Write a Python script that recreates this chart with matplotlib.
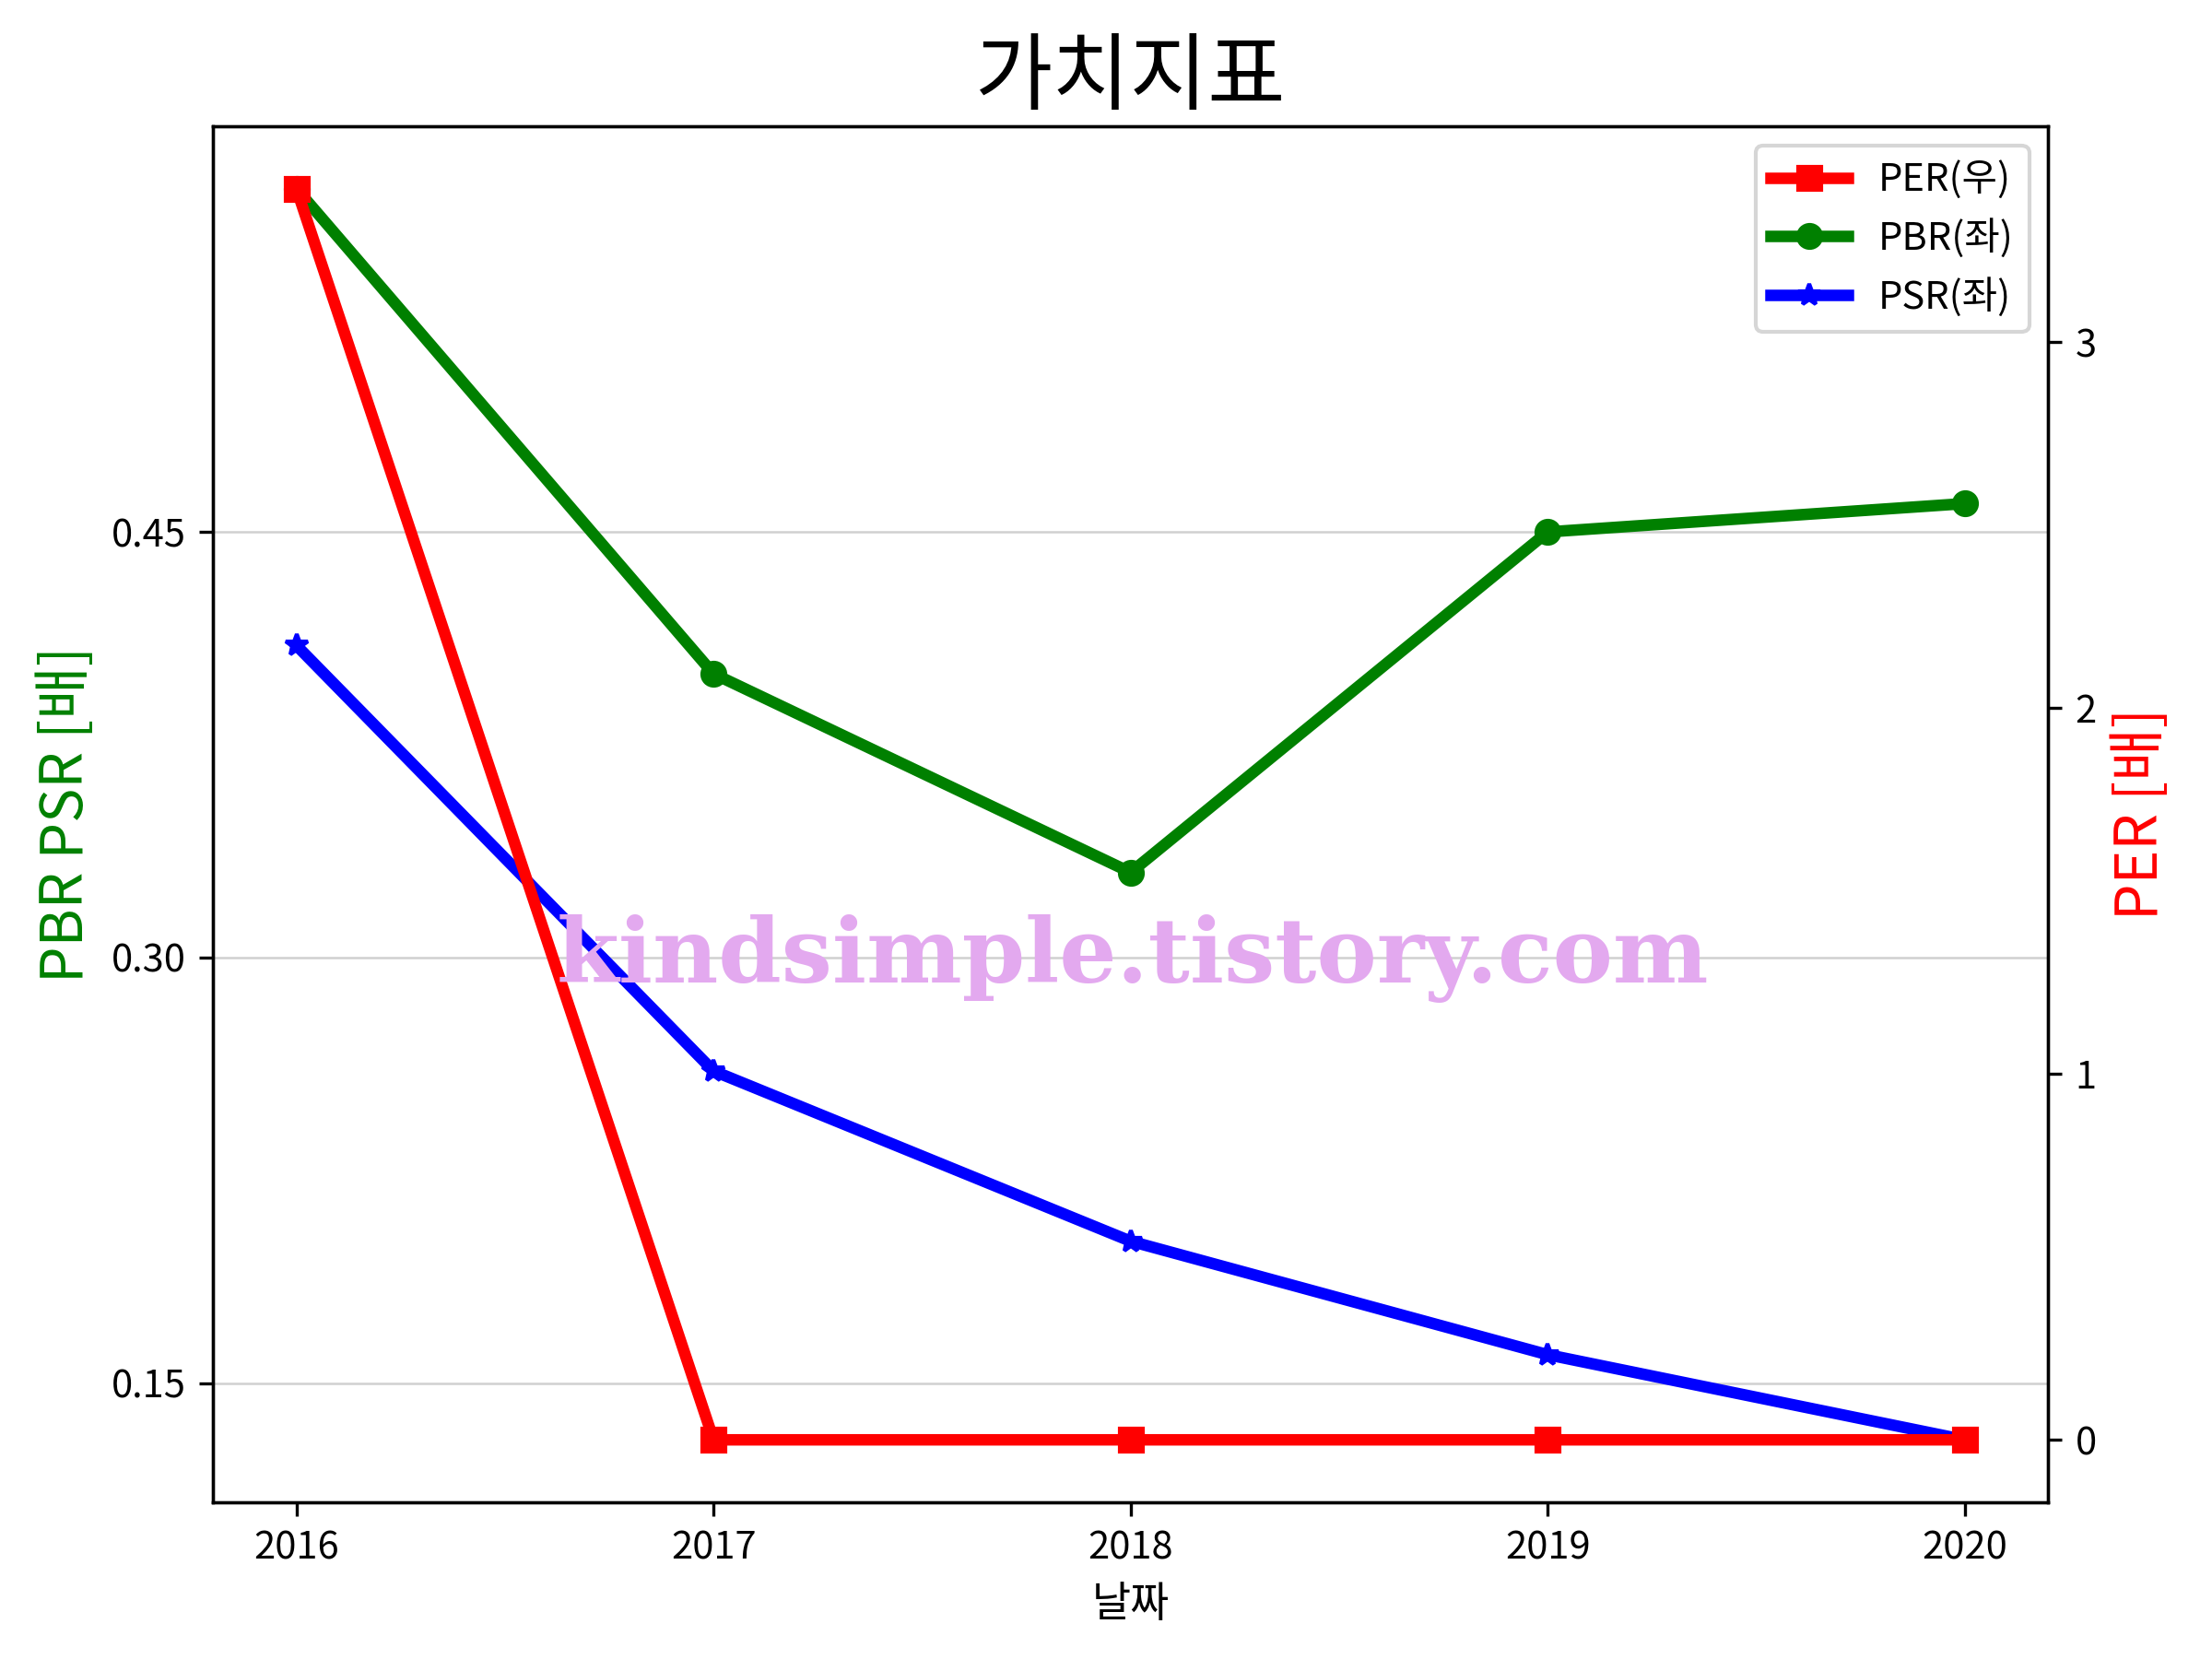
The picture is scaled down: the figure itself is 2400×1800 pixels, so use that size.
import matplotlib
matplotlib.use("Agg")
import matplotlib.pyplot as plt

plt.rcParams['font.family'] = ['Noto Sans CJK KR', 'DejaVu Sans']
plt.rcParams['axes.unicode_minus'] = False

years = [2016, 2017, 2018, 2019, 2020]
per = [3.42, 0.0, 0.0, 0.0, 0.0]
pbr = [0.571, 0.400, 0.330, 0.450, 0.460]
psr = [0.410, 0.260, 0.200, 0.160, 0.130]
left_ticks = [0.15, 0.30, 0.45]
right_ticks = [0, 1, 2, 3]

fig, ax = plt.subplots(figsize=(8, 6), dpi=300)
ax2 = ax.twinx()

l2, = ax.plot(years, pbr, color='green', marker='o', lw=3, label='PBR(좌)')
l3, = ax.plot(years, psr, color='blue', marker='*', lw=3, label='PSR(좌)')
l1, = ax2.plot(years, per, color='red', marker='s', lw=3, label='PER(우)')

ax.set_yticks(left_ticks)
ax.set_yticklabels(['%.2f' % t for t in left_ticks])
ax2.set_yticks(right_ticks)
ax.grid(axis='y', color='#d0d0d0', lw=0.6)
ax.set_xticks(years)
ax.set_xlabel('날짜', fontsize=11)
ax.set_ylabel('PBR PSR [배]', color='green', fontsize=15)
ax2.set_ylabel('PER [배]', color='red', fontsize=15)
ax.set_title('가치지표', fontsize=22)

ax2.legend([l1, l2, l3], [l1.get_label(), l2.get_label(), l3.get_label()], loc='upper right')

fig.subplots_adjust(left=0.0963, right=0.926, top=0.924, bottom=0.0944)

fig.text(0.512, 0.422, 'kindsimple.tistory.com', family='DejaVu Serif', weight='bold',
         fontsize=23.5, color='#e3a9ef', ha='center', va='center', zorder=10)

fig.savefig('out.png', dpi=300)
